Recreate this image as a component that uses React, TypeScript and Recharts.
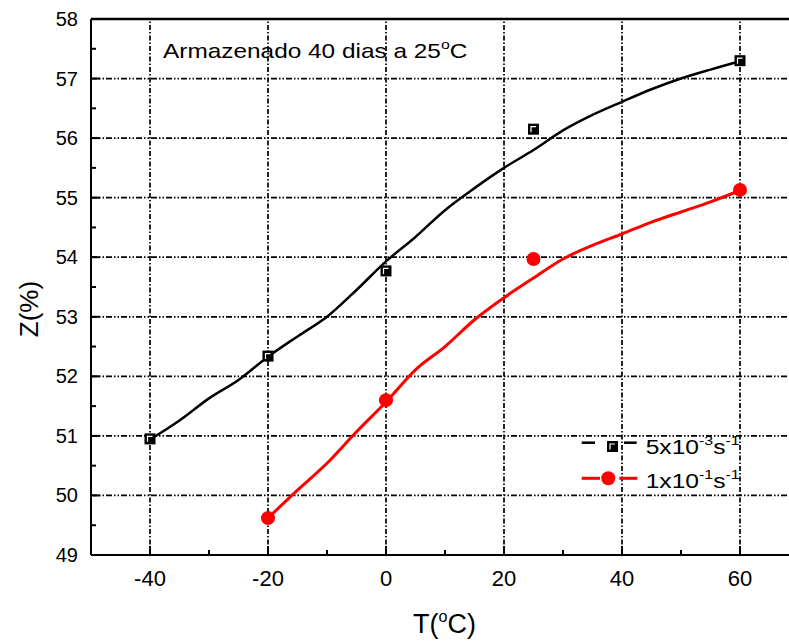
import { ComposedChart, Line, Scatter, XAxis, YAxis, ReferenceLine, Legend } from 'recharts';

const FONT = '"Liberation Sans", Arial, Helvetica, sans-serif';

// measured points, 5x10^-3 s^-1
const slowT = [-40, -20, 0, 25, 60];
const slowZ = [50.95, 52.34, 53.77, 56.15, 57.3];

// measured points, 1x10^-1 s^-1
const fastT = [-20, 0, 25, 60];
const fastZ = [49.62, 51.6, 53.97, 55.13];

// fitted curves, sampled every 5 °C
const slowFitT = [-40, -35, -30, -25, -20, -15, -10, -5, 0, 5, 10, 15, 20, 25, 30, 35, 40, 45, 50, 55, 60];
const slowFitZ = [50.94, 51.26, 51.63, 51.94, 52.33, 52.67, 53.0, 53.45, 53.93, 54.34, 54.79, 55.16, 55.5, 55.8, 56.13, 56.39, 56.61, 56.82, 57.0, 57.15, 57.29];
const fastFitT = [-20, -15, -10, -5, 0, 5, 10, 15, 20, 25, 30, 35, 40, 45, 50, 55, 60];
const fastFitZ = [49.62, 50.09, 50.54, 51.07, 51.57, 52.11, 52.5, 52.95, 53.32, 53.65, 53.97, 54.2, 54.39, 54.59, 54.76, 54.93, 55.12];

const xTicks = [-40, -30, -20, -10, 0, 10, 20, 30, 40, 50, 60];
const yTicks = [49, 49.5, 50, 50.5, 51, 51.5, 52, 52.5, 53, 53.5, 54, 54.5, 55, 55.5, 56, 56.5, 57, 57.5, 58];
const xGrid = [-40, -20, 0, 20, 40, 60];
const yGrid = [50, 51, 52, 53, 54, 55, 56, 57];

const slow = slowT.map((t, i) => ({ t, z: slowZ[i] }));
const fast = fastT.map((t, i) => ({ t, z: fastZ[i] }));
const slowFit = slowFitT.map((t, i) => ({ t, z: slowFitZ[i] }));
const fastFit = fastFitT.map((t, i) => ({ t, z: fastFitZ[i] }));

const Y_MARGIN = 13;
const X_MARGIN = 8;

// wide text: drawn at (x, y) and stretched horizontally
function WideText({ x, y, sx, size, children }: any) {
  return (
    <text transform={`translate(${x} ${y}) scale(${sx} 1)`} fontSize={size} fontFamily={FONT} fill="#000">
      {children}
    </text>
  );
}

function YTick(props: any) {
  const { x, y, payload } = props;
  const v = payload.value;
  const major = Number.isInteger(v);
  const ax = x + Y_MARGIN;
  return (
    <g>
      <line x1={ax} x2={ax + (major ? 9 : 5)} y1={y} y2={y} stroke="#000" strokeWidth={2} />
      {major && (
        <text x={x} y={y} dy={7} textAnchor="end" fontSize={20} fontFamily={FONT} fill="#000">
          {v}
        </text>
      )}
    </g>
  );
}

function XTick(props: any) {
  const { x, y, payload } = props;
  const v = payload.value;
  const major = v % 20 === 0;
  const ay = y - X_MARGIN;
  return (
    <g>
      <line x1={x} x2={x} y1={ay} y2={ay - (major ? 9 : 5)} stroke="#000" strokeWidth={2} />
      {major && (
        <text x={x} y={ay + 31} textAnchor="middle" fontSize={22} fontFamily={FONT} fill="#000">
          {v}
        </text>
      )}
    </g>
  );
}

function SquareMark({ cx, cy }: any) {
  return (
    <g>
      <rect x={cx - 5.5} y={cy - 5.5} width={11} height={11} fill="#000" />
      <path d={`M${cx - 2.5} ${cy + 3}V${cy - 2.5}H${cx + 2.5}`} stroke="#fff" strokeWidth={1.2} fill="none" />
    </g>
  );
}

function DotMark({ cx, cy }: any) {
  return <circle cx={cx} cy={cy} r={7} fill="#ff0000" />;
}

function YTitle(props: any) {
  const vb = props.viewBox;
  const x = vb.x + 38;
  const y = vb.y + vb.height / 2 + 22;
  return (
    <text x={x} y={y} transform={`rotate(-90 ${x} ${y})`} textAnchor="middle" fontSize={26} fontFamily={FONT} fill="#000">
      Z(%)
    </text>
  );
}

function XTitle(props: any) {
  const vb = props.viewBox;
  return (
    <text x={vb.x + 322} y={vb.y + 78} fontSize={27} fontFamily={FONT} fill="#000">
      T(
      <tspan fontSize={16} dy={-11}>o</tspan>
      <tspan dy={11}>C)</tspan>
    </text>
  );
}

function Note(props: any) {
  const vb = props.viewBox;
  return (
    <WideText x={vb.x + 72} y={vb.y + 39} sx={1.22} size={20}>
      Armazenado 40 dias a 25
      <tspan fontSize={13} dy={-9}>o</tspan>
      <tspan dy={9}>C</tspan>
    </WideText>
  );
}

function LegendBox() {
  return (
    <svg width={220} height={75} style={{ display: 'block' }}>
      <line x1={6.7} x2={20} y1={17.7} y2={17.7} stroke="#000" strokeWidth={2.5} />
      <SquareMark cx={37.5} cy={21.5} />
      <line x1={49} x2={61.7} y1={17.7} y2={17.7} stroke="#000" strokeWidth={2.5} />
      <WideText x={70.7} y={29} sx={1.23} size={20}>
        5x10
        <tspan fontSize={13} dy={-9}>-3</tspan>
        <tspan dy={9}>s</tspan>
        <tspan fontSize={13} dy={-9}>-1</tspan>
      </WideText>
      <line x1={6.7} x2={25} y1={53.3} y2={53.3} stroke="#ff0000" strokeWidth={3} />
      <DotMark cx={33.3} cy={53.3} />
      <line x1={44.3} x2={62.3} y1={53.3} y2={53.3} stroke="#ff0000" strokeWidth={3} />
      <WideText x={70.7} y={63.3} sx={1.23} size={20}>
        1x10
        <tspan fontSize={13} dy={-9}>-1</tspan>
        <tspan dy={9}>s</tspan>
        <tspan fontSize={13} dy={-9}>-1</tspan>
      </WideText>
    </svg>
  );
}

export default function App() {
  return (
    <div style={{ position: 'absolute', left: 0, top: 0, width: 789, height: 641, overflow: 'hidden', background: '#fff' }}>
      <ComposedChart width={800} height={641} margin={{ top: 19, right: 1, bottom: 0, left: 0 }}>
        <XAxis
          dataKey="t"
          type="number"
          domain={[-50, 70]}
          ticks={xTicks}
          interval={0}
          allowDataOverflow
          tickSize={0}
          tickMargin={X_MARGIN}
          tickLine={false}
          tick={<XTick />}
          axisLine={{ stroke: '#000', strokeWidth: 2 }}
          height={86}
          label={<XTitle />}
        />
        <YAxis
          type="number"
          domain={[49, 58]}
          ticks={yTicks}
          interval={0}
          allowDataOverflow
          tickSize={0}
          tickMargin={Y_MARGIN}
          tickLine={false}
          tick={<YTick />}
          axisLine={{ stroke: '#000', strokeWidth: 2 }}
          width={91}
          label={<YTitle />}
        />
        {yGrid.map((v) => (
          <ReferenceLine key={`h${v}`} y={v} stroke="#000" strokeWidth={1.7} strokeDasharray="6 2 1.5 2 1.5 2" />
        ))}
        {xGrid.map((v) => (
          <ReferenceLine key={`v${v}`} x={v} stroke="#000" strokeWidth={1.7} strokeDasharray="5 2 1.5 2" />
        ))}
        <ReferenceLine y={58} stroke="#000" strokeWidth={2.5} label={<Note />} />
        <Line data={slowFit} dataKey="z" type="monotone" stroke="#000" strokeWidth={2.5} dot={false} legendType="none" isAnimationActive={false} />
        <Line data={fastFit} dataKey="z" type="monotone" stroke="#ff0000" strokeWidth={3} dot={false} legendType="none" isAnimationActive={false} />
        <Scatter data={slow} dataKey="z" name="5x10-3 s-1" fill="#000" shape={<SquareMark />} isAnimationActive={false} />
        <Scatter data={fast} dataKey="z" name="1x10-1 s-1" fill="#ff0000" shape={<DotMark />} isAnimationActive={false} />
        <Legend
          layout="horizontal"
          verticalAlign="middle"
          align="center"
          wrapperStyle={{ left: 575, top: 425, width: 220, height: 75 }}
          content={() => <LegendBox />}
        />
      </ComposedChart>
    </div>
  );
}
